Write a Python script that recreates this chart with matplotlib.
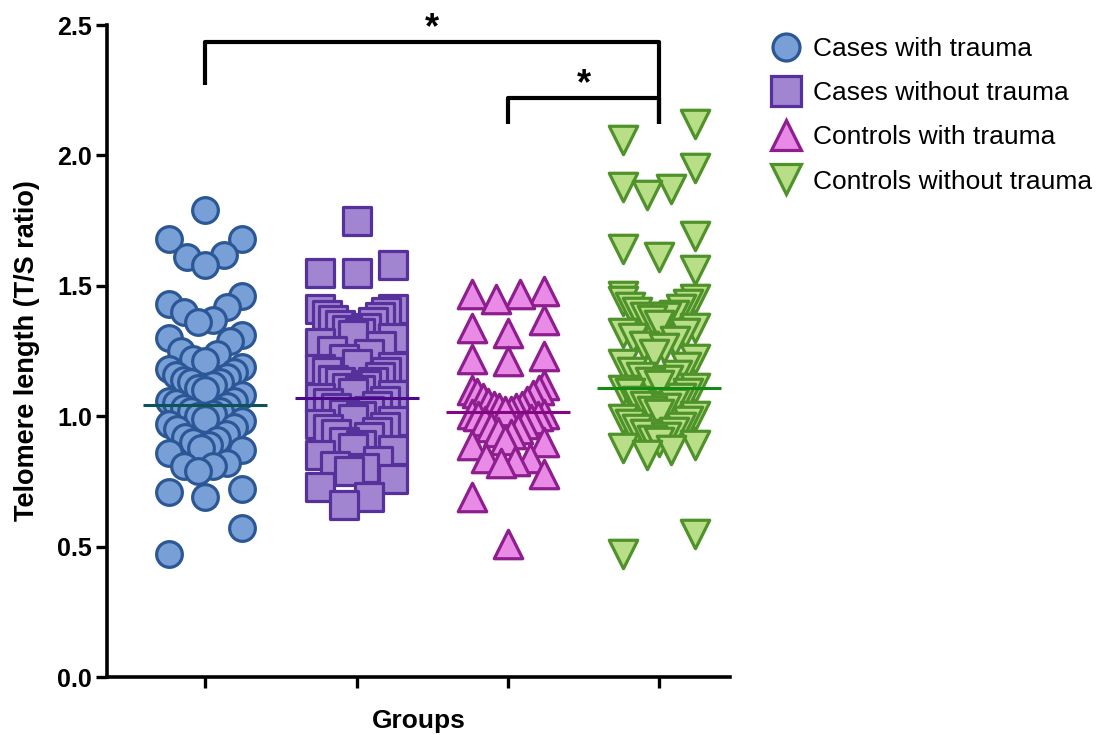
import numpy as np
import matplotlib
matplotlib.use("Agg")
import matplotlib.pyplot as plt
from matplotlib.lines import Line2D

plt.rcParams['font.family'] = ['Liberation Sans', 'DejaVu Sans']

# --- data (T/S ratio; points hidden in the dense parts are estimated) ---
group_names = ["Cases with trauma", "Cases without trauma",
               "Controls with trauma", "Controls without trauma"]

cases_trauma = [1.79, 1.68, 1.68, 1.62, 1.61, 1.58, 1.46, 1.43, 1.42, 1.40,
                1.37, 1.36, 1.31, 1.30, 1.29, 1.25, 1.24, 1.22, 1.21, 1.19,
                1.18, 1.17, 1.16, 1.15, 1.14, 1.13, 1.13, 1.12, 1.11, 1.10,
                1.08, 1.06, 1.06, 1.05, 1.04, 1.03, 1.02, 1.02, 1.01, 1.00,
                0.99, 0.98, 0.97, 0.96, 0.95, 0.93, 0.92, 0.91, 0.90, 0.89,
                0.88, 0.87, 0.86, 0.82, 0.81, 0.81, 0.79, 0.72, 0.71, 0.69,
                0.57, 0.47]
cases_no_trauma = [1.75, 1.58, 1.55, 1.55, 1.41, 1.41, 1.40, 1.39, 1.38, 1.37,
                   1.36, 1.35, 1.34, 1.33, 1.32, 1.31, 1.30, 1.28, 1.27, 1.25,
                   1.24, 1.22, 1.20, 1.19, 1.18, 1.17, 1.17, 1.15, 1.14, 1.13,
                   1.13, 1.12, 1.11, 1.10, 1.09, 1.08, 1.07, 1.06, 1.05, 1.04,
                   1.03, 1.02, 1.01, 1.00, 0.99, 0.98, 0.97, 0.96, 0.95, 0.94,
                   0.93, 0.92, 0.90, 0.89, 0.88, 0.87, 0.85, 0.83, 0.81, 0.80,
                   0.79, 0.76, 0.73, 0.69, 0.66]
controls_trauma = [1.48, 1.47, 1.47, 1.45, 1.37, 1.34, 1.32, 1.23, 1.22, 1.21,
                   1.12, 1.10, 1.10, 1.09, 1.08, 1.07, 1.06, 1.05, 1.04, 1.04,
                   1.03, 1.03, 1.02, 1.02, 1.01, 1.01, 1.00, 1.00, 0.99, 0.98,
                   0.97, 0.96, 0.95, 0.94, 0.93, 0.91, 0.90, 0.89, 0.84, 0.84,
                   0.83, 0.82, 0.78, 0.69, 0.51]
controls_no_trauma = [2.12, 2.06, 1.95, 1.88, 1.87, 1.85, 1.69, 1.64, 1.61, 1.56,
                      1.46, 1.45, 1.44, 1.43, 1.42, 1.41, 1.40, 1.39, 1.38, 1.38,
                      1.37, 1.35, 1.34, 1.32, 1.32, 1.30, 1.29, 1.27, 1.26, 1.24,
                      1.22, 1.20, 1.19, 1.17, 1.16, 1.15, 1.14, 1.13, 1.12, 1.11,
                      1.10, 1.09, 1.09, 1.07, 1.06, 1.05, 1.04, 1.03, 1.02, 1.01,
                      1.00, 0.99, 0.98, 0.97, 0.96, 0.95, 0.94, 0.93, 0.92, 0.91,
                      0.90, 0.89, 0.88, 0.87, 0.85, 0.55, 0.47]
group_means = [1.043, 1.069, 1.017, 1.107]

# significance brackets: (left group, right group, y of bar, bottom of left leg, label)
brackets = [(1, 4, 2.435, 2.27, "*"), (3, 4, 2.22, 2.12, "*")]
bracket_right_leg_bottom = 2.12

# --- styles ---
markers = ['o', 's', '^', 'v']
face_colors = ['#79a0d6', '#a285d1', '#e88ae6', '#b9de88']
edge_colors = ['#2c5796', '#56319b', '#8e1d8e', '#4f922a']
mean_colors = ['#0d5358', '#4b0a8a', '#850585', '#138a13']
marker_sizes = [18.5, 20.0, 20.5, 20.5]
edge_width = 2.3


def swarm_offsets(values, half_width=0.24, row_height=0.1):
    """Prism風の散布配置: 近い値を同じ行にまとめ、外側から内側へ並べる"""
    values = np.asarray(values)
    order = np.argsort(-values, kind='stable')
    rows, row, top = [], [], None
    for i in order:
        if top is None or values[i] < top - row_height:
            if row:
                rows.append(row)
            row, top = [i], values[i]
        else:
            row.append(i)
    rows.append(row)

    offsets = np.zeros(len(values))
    for row in rows:
        n = len(row)
        if n == 1:
            continue
        slots = np.linspace(half_width, -half_width, n)
        seq = []
        lo, hi = 0, n - 1
        while lo <= hi:
            seq.append(lo)
            if hi != lo:
                seq.append(hi)
            lo += 1
            hi -= 1
        for idx, s in zip(row, seq):
            offsets[idx] = slots[s]
    return offsets


fig = plt.figure(figsize=(10.99, 7.35), dpi=100)
ax = fig.add_axes([0.0974, 0.0789, 0.567, 0.887])

groups = [cases_trauma, cases_no_trauma, controls_trauma, controls_no_trauma]
handles = []
for k, vals in enumerate(groups):
    xpos = k + 1
    x = xpos + swarm_offsets(vals)
    ax.scatter(x, vals, s=marker_sizes[k] ** 2, marker=markers[k],
               facecolor=face_colors[k], edgecolor=edge_colors[k],
               linewidth=edge_width, zorder=2, clip_on=False)
    ax.plot([xpos - 0.41, xpos + 0.41], [group_means[k]] * 2,
            color=mean_colors[k], lw=2.2, zorder=3, solid_capstyle='butt')
    handles.append(Line2D([], [], linestyle='none', marker=markers[k],
                          markersize=marker_sizes[k] * 1.05, markerfacecolor=face_colors[k],
                          markeredgecolor=edge_colors[k], markeredgewidth=edge_width,
                          label=group_names[k]))

# brackets
for g1, g2, yb, left_bottom, label in brackets:
    ax.plot([g1, g1, g2, g2], [left_bottom, yb, yb, bracket_right_leg_bottom],
            color='black', lw=3, clip_on=False, zorder=4, solid_capstyle='butt')
    ax.text((g1 + g2) / 2, yb - 0.015, label, ha='center', va='bottom',
            fontsize=26, fontweight='bold', clip_on=False)

ax.set_ylim(0, 2.5)
ax.set_xlim(0.35, 4.47)
yticks = [0, 0.5, 1.0, 1.5, 2.0, 2.5]
ax.set_yticks(yticks)
ax.set_yticklabels([f"{v:.1f}" for v in yticks], fontsize=18, fontweight='bold')
ax.set_xticks([1, 2, 3, 4])
ax.set_xticklabels([])
ax.tick_params(axis='both', direction='out', length=8, width=2.4, pad=3)

for side in ['top', 'right']:
    ax.spines[side].set_visible(False)
for side in ['left', 'bottom']:
    ax.spines[side].set_linewidth(2.6)

ax.set_ylabel("Telomere length (T/S ratio)", fontsize=19.5, fontweight='bold', labelpad=12)
ax.set_xlabel("Groups", fontsize=19, fontweight='bold', labelpad=12)

fig.legend(handles=handles, loc='upper left', bbox_to_anchor=(0.703, 0.950),
           frameon=False, fontsize=19, handlelength=1.0, handletextpad=0.55,
           labelspacing=0.77, borderaxespad=0, borderpad=0)

fig.savefig("out.png", dpi=100)
